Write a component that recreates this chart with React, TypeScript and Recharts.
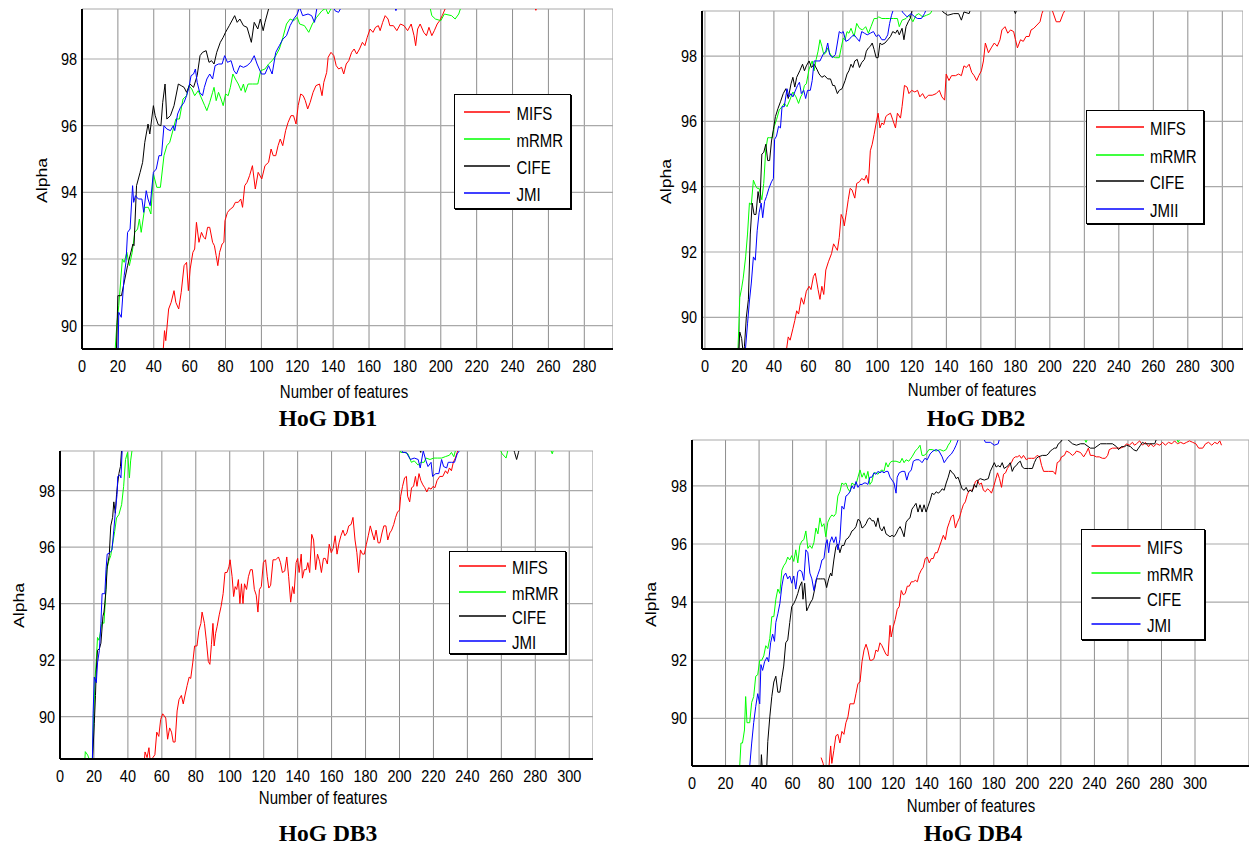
import React from 'react';
import { LineChart, Line, XAxis, YAxis, CartesianGrid } from 'recharts';

type Pair = number[];

const namesStd = ['MIFS', 'mRMR', 'CIFE', 'JMI'];
const namesDb2 = ['MIFS', 'mRMR', 'CIFE', 'JMII'];
const seriesColors = ['#ff0000', '#00ff00', '#000000', '#0000ff'];
const xTicks280 = [0, 20, 40, 60, 80, 100, 120, 140, 160, 180, 200, 220, 240, 260, 280];
const xTicks300 = [0, 20, 40, 60, 80, 100, 120, 140, 160, 180, 200, 220, 240, 260, 280, 300];
const yTicks = [90, 92, 94, 96, 98];

// ---------------- HoG DB1 ----------------
const db1Mifs: Pair[] = [[44.8,88.9],[46,89.85],[46.7,89.55],[48.3,90.5],[49.7,90.7],[51.3,91.05],[52.3,90.7],[53.9,90.5],[55.3,91.0],[56.9,91.8],[58.3,91.9],[59.3,91.05],[60.3,91.7],[61.8,92.2],[62.8,92.3],[63.8,93.1],[65.2,92.5],[66.6,92.8],[67.8,92.65],[68.8,92.6],[70,92.95],[71.2,92.95],[72.8,92.5],[73.8,92.4],[74.8,92.1],[75.7,91.8],[76.7,92.2],[78.1,92.45],[79.1,92.5],[79.7,93.15],[81.1,93.4],[82.7,93.5],[84.1,93.55],[85.5,93.7],[87.1,93.7],[88.5,93.8],[89.5,93.55],[90.7,94.2],[92,94.3],[93.4,94.5],[95,94.8],[96.6,94.1],[98.2,94.6],[100.2,94.4],[102,94.8],[104,94.9],[105.4,95.3],[106.6,95.1],[108,95.1],[109.3,95.4],[110.5,95.6],[111.9,95.4],[113.5,95.85],[114.9,96.1],[116.5,96.3],[117.9,96.3],[119.3,96.05],[120.5,96.6],[121.9,96.95],[123.3,96.9],[124.5,96.75],[125.8,96.5],[127.2,96.7],[128.8,97.0],[130.4,97.2],[132.4,97.25],[133.8,96.9],[134.8,97.3],[136.4,97.6],[137.2,98.05],[138.8,98.2],[140.4,98.1],[141.7,97.8],[143.1,97.7],[144.7,97.75],[145.9,97.55],[147.3,97.85],[148.7,97.95],[150.3,98.2],[151.7,98.3],[153.1,98.15],[154.7,98.3],[156.3,98.5],[157.7,98.4],[159,98.65],[160.6,98.9],[162.2,98.8],[163.6,98.95],[165.2,99.0],[166.2,98.85],[167.6,99.1],[169,99.3],[170.6,99.2],[171.6,99.0],[173.6,99.0],[175.5,98.85],[177.5,99.05],[179.5,99.0],[181.5,98.85],[183.5,99.05],[185.1,98.7],[186,98.4],[187.1,98.9],[188.5,99.05],[190.5,98.8],[192,98.7],[193.4,98.95],[195,98.7],[196.4,98.85],[198,99.05],[199.4,99.15],[200.8,99.3],[202.4,99.5],[204,99.8],[251,99.8],[253,99.46],[255,99.8],[296,99.8]];
const db1Mrmr: Pair[] = [[18,88.9],[19.5,90.1],[20.5,90.6],[22.5,92.0],[23.5,91.9],[25,92.2],[26.4,91.8],[28,92.2],[29.4,92.8],[31,92.9],[32,93.2],[33,92.8],[35,93.55],[37,93.55],[38.4,93.35],[39.8,94.55],[41.7,94.15],[43.7,94.15],[45.7,95.1],[47.3,95.4],[48.9,95.5],[50.9,95.9],[52.3,96.2],[54.3,96.2],[56.3,96.8],[58.3,96.9],[59.6,97.2],[61.2,97.1],[62.8,96.9],[64.8,97.05],[66.8,96.8],[68.4,96.6],[69.6,96.45],[71.2,96.7],[72.8,97.0],[73.6,97.15],[74.8,96.75],[76.1,97.0],[77.5,96.8],[78.7,96.6],[80,96.95],[81.5,96.9],[82.7,97.15],[84.1,97.55],[85.5,97.4],[87.1,97.25],[88.7,97.05],[90,97.25],[91,97.0],[92.6,97.25],[95,97.25],[98,97.25],[99.6,97.65],[102,97.7],[104,97.85],[106,97.95],[108,98.1],[110,98.3],[112,98.65],[114,99.05],[116,99.2],[118,99.15],[120,99.25],[121.3,99.05],[124,99.0],[126.4,98.8],[128.4,99.05],[130.8,99.25],[133.8,99.45],[135.8,99.52],[137.2,99.35],[139.8,99.6],[150,99.8],[193,99.8],[195,99.3],[197,99.2],[200,99.15],[202,99.35],[206,99.3],[208,99.2],[210,99.35],[211.5,99.6],[215,99.8],[296,99.8]];
const db1Cife: Pair[] = [[19,88.9],[20,90.9],[22,90.9],[25.4,91.8],[28.4,92.45],[29,92.4],[30.4,94.2],[32.4,94.6],[33.8,94.9],[35,95.5],[36.8,96.05],[37.8,95.75],[39.8,96.6],[40.8,96.3],[42.5,96.03],[44,96.0],[45,96.7],[46.3,97.25],[47.3,96.2],[49.3,96.3],[51.3,96.6],[53.7,97.25],[55.3,97.2],[56.9,97.15],[58.3,97.0],[60.2,97.25],[62.2,97.15],[64.2,97.5],[65.8,98.1],[67.2,98.2],[69.2,98.25],[70.8,97.9],[72.2,97.95],[73.6,97.85],[75.1,98.2],[77.1,98.5],[78.7,98.65],[80,98.8],[82.1,99.0],[84.1,99.2],[85.1,99.3],[86.5,99.1],[88,99.2],[90,99.0],[92,98.95],[94.4,98.5],[96,99.1],[98,98.9],[99.4,99.2],[101,98.85],[102,99.1],[104,99.5],[106,99.8],[296,99.8]];
const db1Jmi: Pair[] = [[20,88.9],[20.5,90.4],[21.9,90.25],[23.5,91.5],[24.5,91.9],[25.4,92.8],[26.8,92.9],[28.2,94.2],[28.8,93.7],[29.8,93.9],[31.4,93.8],[33.4,93.8],[34.4,93.4],[35.8,94.05],[36.8,93.8],[38,93.6],[39.8,94.6],[41.4,94.7],[42.9,95.1],[44.3,95.1],[45.7,96.0],[47.3,95.9],[49.3,95.85],[50.9,96.0],[51.7,95.85],[53.3,96.35],[54.9,96.55],[56.9,96.7],[58.3,96.9],[59.6,97.15],[60.8,97.5],[62.2,97.55],[63.2,97.7],[64.2,97.3],[65.6,97.0],[67.2,96.9],[68.2,97.15],[69.6,97.4],[71.2,97.55],[72.8,97.4],[74.2,97.8],[76.1,97.85],[78.1,97.85],[79.5,98.1],[81.1,97.9],[83.1,97.95],[84.7,97.65],[86.1,97.55],[88,97.8],[90,97.75],[92,97.8],[94,97.9],[96,98.1],[97.6,97.85],[100,97.55],[102,97.55],[104,97.8],[106,97.55],[108,98.2],[110,98.4],[112,98.6],[114,98.7],[116,99.0],[118,99.2],[120,99.35],[121.3,99.55],[123,99.3],[126,99.35],[128,99.3],[129.6,99.1],[131,99.55],[133,99.8],[139,99.8],[141,99.45],[143,99.4],[145,99.6],[147,99.8],[173,99.8],[175,99.45],[177,99.8],[296,99.8]];

// ---------------- HoG DB2 ----------------
const db2Mifs: Pair[] = [[46.5,88.7],[48.3,89.4],[49.4,89.3],[51,89.65],[52.1,89.9],[53.2,90.2],[54.3,90.1],[55.9,90.6],[57.3,90.4],[58.8,90.8],[60.4,90.95],[61.5,90.85],[62.9,91.25],[64,91.35],[65.6,90.85],[66.7,90.55],[67.8,90.95],[68.9,90.7],[70.1,91.45],[71.6,91.7],[73.4,91.95],[74.6,92.25],[75.7,92.15],[76.8,92.05],[77.9,92.45],[79,93.15],[80.2,93.0],[80.8,92.8],[82,93.2],[83.1,93.6],[84.2,93.95],[85.3,93.9],[86.9,93.65],[88,94.1],[89.6,94.15],[90.9,94.25],[92.5,94.2],[93.6,94.35],[94.8,94.1],[95.9,95.1],[97,95.3],[98.1,95.6],[99.3,95.95],[100.4,96.25],[101.5,95.8],[102.6,95.95],[103.7,95.9],[104.9,96.15],[106,96.2],[107.6,96.25],[108.9,96.05],[110.5,95.8],[111.6,96.25],[113.4,96.1],[114.3,96.45],[115.7,97.1],[117.2,97.05],[118.3,96.85],[119.9,96.95],[121.7,96.9],[123.3,96.95],[124.6,96.75],[126.2,96.85],[127.8,96.7],[129.6,96.8],[131.8,96.8],[134.1,96.85],[135.9,96.95],[137.4,96.75],[139,96.65],[139.9,97.45],[141.5,97.25],[143,97.4],[145.3,97.4],[147.1,97.45],[148.7,97.4],[150.2,97.7],[151.6,97.65],[153.2,97.75],[154.7,97.5],[156.1,97.4],[157.6,97.25],[158.8,97.4],[160.3,97.55],[161.5,97.85],[162.6,98.4],[164.4,98.1],[166,98.25],[167.8,98.4],[169.5,98.3],[171.1,98.5],[172.2,98.8],[174,98.9],[175.6,98.7],[177.2,98.8],[179,98.75],[180.1,98.5],[181.2,98.25],[183,98.5],[184.6,98.45],[186.2,98.6],[188,98.6],[189.1,98.8],[190.7,98.85],[192.5,98.95],[194.3,99.05],[195.4,99.3],[196.5,99.45],[198,99.6],[200,99.5],[201.4,99.4],[203.7,99.05],[205.9,99.05],[207.7,99.3],[209.3,99.45],[211,99.7],[312,99.7]];
const db2Mrmr: Pair[] = [[19.1,88.9],[20.2,90.6],[21.3,90.9],[22.2,91.2],[23.6,91.85],[24.7,92.55],[25.8,93.5],[26.9,93.45],[28.1,94.2],[29.2,94.05],[30.3,93.95],[31.4,93.95],[33,93.6],[34.1,94.1],[35.3,95.15],[36.4,95.5],[37.5,95.5],[39.1,95.5],[40.2,95.85],[41.5,96.05],[43.1,96.35],[44.7,96.45],[46,96.55],[47.6,96.45],[49.2,96.65],[51,96.9],[52.8,96.75],[54.3,96.55],[55.5,96.75],[56.6,96.85],[57.7,97.1],[58.8,97.15],[60.4,97.6],[62.2,97.85],[63.3,97.55],[64.5,97.9],[65.6,98.15],[66.7,98.5],[67.8,98.3],[68.9,98.05],[70.1,98.1],[71.2,98.25],[72.3,98.1],[73.4,98.0],[75.7,97.95],[77.9,97.95],[79,98.25],[80.2,98.55],[81.3,98.5],[82.4,98.75],[83.5,98.7],[84.7,98.85],[86.5,98.6],[88,99.0],[89.6,98.85],[91.4,98.8],[93.2,98.9],[94.8,98.7],[96.3,98.9],[98.1,99.15],[99.7,99.15],[100.8,99.2],[102.6,99.15],[104.9,99.15],[107.1,99.15],[109.4,99.15],[111.6,99.15],[112.7,98.9],[114.3,99.1],[116.6,99.15],[118.3,99.25],[120.6,99.05],[122.4,99.25],[124,99.3],[126.2,99.2],[128.5,99.25],[130.7,99.3],[132.3,99.45],[134,99.7],[312,99.7]];
const db2Cife: Pair[] = [[19.5,88.9],[20.2,89.55],[21.3,89.35],[22.2,88.9],[22.9,89.1],[24,90.0],[25.2,90.55],[26.3,92.55],[27.4,93.5],[28.5,93.15],[29.6,93.15],[30.8,93.85],[31.9,93.5],[33,95.0],[34.1,95.05],[35.3,95.3],[36.4,94.8],[37.5,94.8],[38.6,95.4],[39.7,95.75],[40.9,96.15],[42.4,96.4],[43.8,96.6],[45.4,96.85],[46.9,97.0],[48.3,96.7],[49.9,97.15],[51,97.35],[52.1,97.05],[53.2,97.35],[55,97.55],[56.6,97.75],[57.7,97.55],[58.8,97.7],[60.4,97.85],[61.8,97.65],[63.3,97.75],[64.9,97.6],[66.2,97.45],[67.8,97.35],[69.4,97.4],[71.2,97.3],[72.8,97.3],[74.1,97.1],[75.2,97.1],[76.8,96.85],[77.9,96.95],[79.5,97.0],[81.3,97.25],[82.4,97.45],[83.5,97.55],[84.7,97.75],[85.8,97.65],[86.9,97.85],[88.3,97.9],[89.6,97.65],[90.9,97.8],[92.5,97.9],[93.6,98.15],[94.8,98.25],[95.9,98.3],[97,98.4],[98.1,98.2],[99.3,97.95],[100.4,97.95],[101.5,98.4],[102.6,98.35],[104.4,98.4],[106,98.5],[107.6,98.6],[108.9,98.75],[110.5,98.7],[111.6,98.8],[112.7,98.65],[114.3,98.85],[115.4,98.5],[116.6,98.9],[117.9,99.05],[119,99.15],[119.9,99.35],[121,99.6],[136,99.6],[138,99.35],[140.8,99.25],[144.2,99.3],[147.1,99.3],[148.7,99.1],[150.2,99.35],[153.2,99.3],[155,99.6],[178,99.6],[180,99.3],[182,99.6],[312,99.6]];
const db2Jmi: Pair[] = [[23.3,88.9],[24.7,89.8],[25.8,90.5],[26.9,91.05],[28.1,91.85],[29.2,91.75],[30.3,92.65],[31.4,93.2],[32.6,93.5],[33.5,93.05],[34.6,93.55],[35.7,93.7],[37.1,93.95],[38.6,94.15],[39.7,94.25],[40.4,95.45],[41.5,95.55],[42.7,95.85],[43.8,95.8],[44.7,96.45],[46,96.45],[47.6,97.0],[48.7,96.75],[49.9,96.85],[51,96.75],[52.1,96.9],[53.7,97.1],[54.8,97.2],[55.9,96.85],[57.3,96.95],[58.4,96.7],[59.5,96.95],[61.1,96.95],[62.2,97.25],[63.3,97.85],[64.9,97.85],[66.7,97.85],[68.5,98.05],[70.1,98.15],[71.2,98.4],[72.3,98.05],[73.9,97.95],[75.7,98.05],[76.8,98.4],[77.9,98.75],[79,98.7],[80.2,98.75],[81.7,98.45],[83.5,98.5],[85.1,98.6],[86.5,98.65],[88,98.55],[89.6,98.45],[90.9,98.75],[92.5,98.7],[94.1,98.65],[95.9,98.7],[97.7,98.75],[99.3,98.6],[100.8,98.65],[102.6,98.5],[104.4,98.5],[106,98.65],[107.1,99.0],[108.2,99.25],[109.4,99.45],[111,99.6],[113.5,99.6],[114.5,99.35],[117.2,99.2],[119.5,99.3],[121.7,99.2],[123.3,99.15],[125.5,99.15],[127.3,99.3],[128.5,99.45],[130,99.6],[312,99.6]];

// ---------------- HoG DB3 ----------------
const db3Mifs: Pair[] = [[49.5,88.3],[50.1,88.75],[51.3,88.55],[52.4,88.9],[53.1,88.45],[54.7,88.55],[55.9,88.65],[57,89.45],[58.2,89.3],[59.3,89.9],[60.5,90.1],[62.3,89.95],[63.4,89.2],[64.6,89.6],[65.7,89.45],[66.7,89.1],[67.8,89.1],[69,90.2],[70.1,90.6],[71.5,90.75],[72.6,90.45],[73.8,90.8],[74.9,91.1],[76.1,91.4],[77,91.35],[78.2,91.9],[79.3,92.5],[80.7,92.5],[81.8,93.05],[83,93.3],[83.7,93.7],[85.1,93.3],[86.2,92.7],[87.4,91.95],[88.3,91.85],[89.2,92.55],[90.1,93.3],[90.8,92.5],[91.7,92.95],[92.6,93.2],[93.8,93.6],[94.9,93.9],[96.1,94.35],[97.2,95.1],[98.4,95.1],[99.5,95.3],[100.2,95.55],[101.4,94.95],[102.3,94.25],[103.2,94.6],[104.1,94.5],[105.1,94.85],[106,94.0],[106.9,94.7],[107.8,94.0],[108.7,94.7],[109.9,94.5],[111,94.95],[112.2,95.2],[113.3,95.2],[114.5,94.5],[115.6,94.3],[116.6,93.7],[117.5,94.5],[118.6,94.6],[119.8,95.45],[121.1,95.55],[122.1,94.95],[123,94.55],[124.1,94.65],[125.5,95.55],[127.1,95.55],[128.7,95.65],[129.9,95.45],[131,95.1],[132.4,95.15],[133.6,95.65],[134.7,94.95],[135.9,94.05],[137,94.6],[137.9,94.35],[139.1,95.45],[140,95.6],[140.9,95.1],[142.1,95.75],[142.8,94.9],[143.9,95.2],[145.1,95.2],[146,95.45],[147.1,95.1],[148.3,96.45],[149.4,96.25],[150.6,95.2],[151.7,95.75],[152.9,95.5],[154,95.1],[155.2,95.6],[156.3,95.6],[157.5,95.4],[158.6,96.1],[159.8,95.8],[160.9,95.95],[162.1,96.4],[163.2,95.75],[164.4,96.15],[165.5,96.4],[166.7,96.6],[167.8,96.4],[169,96.5],[170.1,96.75],[171.5,96.8],[172.6,97.05],[173.8,96.25],[174.9,95.8],[175.9,95.1],[177,95.9],[178.2,95.75],[179.3,95.75],[180.5,96.1],[181.6,96.4],[182.8,96.75],[183.9,96.5],[185.1,96.25],[186.2,96.6],[187.4,96.15],[188.5,96.15],[189.7,96.5],[190.8,96.75],[192,96.75],[193.1,96.25],[194.3,96.5],[195.4,96.6],[196.6,96.8],[197.7,97.05],[198.9,97.25],[200,97.3],[200.7,97.8],[201.8,98.15],[203,98.45],[204.1,98.5],[204.8,97.8],[206,97.6],[207.1,98.1],[208.3,98.15],[209.4,98.5],[210.3,98.15],[211.5,98.6],[212.6,98.35],[213.8,98.2],[214.9,98.1],[216.1,97.95],[217.2,98.1],[218.6,98.05],[219.8,98.15],[220.9,98.1],[222.1,98.35],[223.7,98.5],[225.5,98.5],[227.1,98.7],[228.3,98.6],[229.4,98.8],[230.6,98.7],[231.7,99.0],[232.9,99.15],[234,99.35],[235.5,99.6],[313,99.6]];
const db3Mrmr: Pair[] = [[14.5,88.3],[14.9,88.76],[16.3,88.64],[17.2,88.5],[19,88.45],[19.8,89.9],[20.7,91.4],[21.4,92.0],[22.1,92.8],[23,92.7],[23.7,92.95],[24.8,93.35],[25.9,93.3],[26.7,94.1],[27.6,95.2],[28.7,95.5],[29.9,95.7],[31,96.1],[32.2,96.55],[33.3,97.03],[34.7,97.15],[36.3,97.5],[37.5,98.15],[38.6,99.1],[39.8,99.35],[40.9,98.45],[41.6,99.05],[42.5,99.45],[43.5,99.7],[199,99.7],[200.7,99.35],[203,99.35],[205,99.3],[207,99.0],[208.7,99.05],[211,98.9],[212.6,99.0],[214.5,99.0],[215.6,99.15],[218,99.1],[220.2,99.15],[222.5,99.15],[224.8,99.15],[227,99.2],[229.4,99.25],[230.6,99.35],[232,99.2],[232.9,99.4],[234.5,99.6],[258,99.6],[260.5,99.3],[262.8,99.15],[264.5,99.6],[288,99.6],[290,99.3],[291.5,99.6],[313,99.6]];
const db3Cife: Pair[] = [[19.1,88.4],[20.2,89.75],[20.9,90.75],[21.4,91.65],[22.1,92.35],[23.2,92.4],[24.1,92.6],[25.3,93.55],[25.9,93.7],[26.4,94.0],[27.1,94.5],[27.8,95.3],[29,95.7],[29.9,96.75],[31,97.05],[31.7,97.6],[32.6,97.2],[33.3,97.85],[34,98.25],[34.7,98.6],[35.6,98.85],[36.3,99.45],[37,99.7],[210,99.7],[212.5,99.35],[214,99.7],[266,99.7],[267.8,99.35],[269,99.1],[270.1,99.35],[271.5,99.7],[313,99.7]];
const db3Jmi: Pair[] = [[19.1,88.4],[19.5,90.1],[20.2,91.4],[21.4,91.2],[22.1,91.9],[23.2,92.35],[24.1,93.3],[24.8,94.35],[26.4,94.35],[27.1,95.2],[27.8,95.75],[29.4,95.8],[30.6,95.9],[31.7,96.6],[32.9,97.45],[33.6,97.85],[34,98.5],[35.2,98.55],[35.9,98.45],[36.6,99.4],[37.5,99.7],[200,99.7],[201.8,99.35],[204,99.35],[206.4,99.1],[208.7,99.15],[211,99.1],[212.2,98.8],[214,99.4],[215.6,99.05],[216.8,98.85],[218.6,99.0],[219.5,98.5],[221.4,98.6],[223.2,98.6],[224.8,99.1],[226,98.85],[227.8,98.8],[228.7,99.0],[230.6,99.0],[232.4,99.0],[234,99.3],[235.2,99.4],[236.5,99.7],[313,99.7]];

// ---------------- HoG DB4 ----------------
const db4Mifs: Pair[] = [[77,88.65],[78.2,88.45],[79,88.2],[81.5,88.2],[82.7,89.05],[83.4,88.45],[84.6,88.9],[85.8,89.4],[87,89.45],[88.2,89.15],[89.4,89.55],[90.6,89.45],[91.8,89.85],[93,90.05],[94.2,90.5],[95.4,90.5],[96.6,90.5],[97.8,90.85],[99,91.2],[100.2,91.25],[101.4,91.95],[102.6,92.35],[103.8,92.55],[104.9,92.35],[106.1,92.0],[107.3,92.0],[108.5,92.05],[109.7,92.35],[110.9,92.3],[112.1,92.6],[113.3,92.5],[114.5,92.35],[115.7,92.2],[116.9,92.15],[118.1,93.2],[118.8,92.8],[120,93.15],[121.2,93.4],[122.4,93.75],[123.6,93.85],[124.8,94.4],[126,94.25],[127.2,94.3],[128.4,94.55],[129.6,94.55],[130.8,94.7],[132,94.7],[133.2,94.75],[134.4,94.7],[135.5,94.95],[136.7,95.1],[137.9,95.2],[139.1,95.5],[140.3,95.55],[141.5,95.35],[142.7,95.5],[143.9,95.5],[145.1,95.7],[146.3,95.7],[147.5,95.9],[148.7,96.1],[149.9,96.3],[151.1,96.15],[152.3,96.55],[153.5,96.75],[154.7,96.95],[155.9,97.0],[157.1,96.55],[158.3,96.75],[159.5,96.9],[160.7,97.15],[161.8,97.35],[163,97.45],[164.2,97.7],[165.4,97.85],[166.6,97.85],[167.8,97.9],[169,98.15],[170.2,98.2],[171.4,98.05],[172.6,98.1],[173.8,97.85],[175,97.8],[176.2,97.9],[177.4,97.85],[178.6,97.75],[179.8,97.95],[181,98.2],[182.2,98.45],[183.4,98.25],[184.6,97.95],[185.8,98.4],[187,98.45],[188.1,98.6],[189.3,98.7],[190.5,98.8],[191.7,98.95],[192.9,99.0],[194.1,99.0],[195.3,99.05],[196.5,98.95],[197.7,99.05],[199.4,98.9],[200.6,98.95],[202.5,98.95],[204.2,98.95],[205.8,99.05],[207.3,99.0],[208.5,98.7],[209.7,98.5],[212.5,98.5],[215.4,98.5],[216.8,98.4],[217.8,98.8],[219.2,98.85],[220.4,99.0],[222.1,99.05],[223.3,99.2],[225,99.15],[226.9,99.05],[228.1,99.1],[229.3,99.2],[231.7,99.15],[233.6,99.0],[235.2,99.15],[236.4,99.3],[237.6,99.05],[239.3,99.05],[241.2,99.0],[242.9,99.0],[244.8,98.95],[246.5,98.95],[247.9,99.05],[248.9,99.25],[250.8,99.3],[253.2,99.3],[255.6,99.3],[257.5,99.35],[259.2,99.45],[260.8,99.4],[262.7,99.5],[263.9,99.4],[265.1,99.45],[267,99.55],[268.7,99.4],[270.4,99.5],[272.3,99.35],[273.5,99.45],[275.2,99.35],[277.1,99.45],[279,99.4],[280.7,99.5],[282.3,99.4],[284.2,99.5],[286.2,99.45],[287.8,99.55],[289.5,99.45],[291.4,99.5],[293.3,99.45],[295,99.5],[296.7,99.55],[298.6,99.5],[300.5,99.45],[302.2,99.3],[304.6,99.3],[306.3,99.45],[308.1,99.5],[310,99.4],[311.7,99.5],[313.4,99.45],[314.8,99.55],[315.8,99.4]];
const db4Mrmr: Pair[] = [[28.3,88.2],[29.2,89.15],[30.1,89.15],[31.3,89.6],[32,90.75],[32.8,89.85],[34.4,89.85],[35.6,90.55],[36.8,90.75],[38,91.45],[39.2,91.5],[40.4,92.0],[41.6,92.0],[42.8,92.15],[44,92.5],[45.2,92.4],[46.4,92.75],[47.6,93.5],[48.8,93.5],[50,94.1],[51.2,94.45],[52.4,94.3],[53.6,95.1],[54.7,95.25],[55.9,95.35],[57.1,95.55],[58.3,95.45],[59.5,95.6],[60.7,95.4],[61.9,95.8],[63.1,95.35],[64.3,95.95],[65.5,96.1],[66.7,96.15],[67.9,96.45],[69.1,95.85],[70.3,95.95],[71.5,95.85],[72.7,96.05],[73.9,96.55],[75.1,96.35],[76.3,96.9],[77.5,96.6],[78.7,96.7],[79.8,96.25],[81,96.75],[82.2,96.9],[83.4,97.0],[84.6,96.95],[85.8,97.05],[87,97.65],[88.2,97.8],[89.4,98.1],[90.6,98.05],[91.8,98.1],[93,97.9],[94.2,97.8],[95.4,98.1],[96.6,98.05],[97.8,98.05],[99,98.3],[100.2,98.55],[101.4,98.3],[102.6,98.45],[103.8,98.25],[104.9,98.5],[106.1,98.05],[107.3,98.15],[108.5,98.45],[109.7,98.45],[110.9,98.4],[112.1,98.5],[113.3,98.55],[114.5,98.5],[115.7,98.8],[116.9,98.65],[118.1,98.8],[119.3,98.85],[121.7,98.85],[124.1,98.8],[125.3,98.95],[126.5,98.8],[127.7,98.9],[129.3,98.85],[131.2,99.0],[133.2,99.2],[134.8,99.3],[136,99.4],[137.2,99.05],[138.4,99.05],[139.6,99.1],[141.3,99.25],[143.2,99.25],[145.6,99.2],[148,99.25],[149.9,99.2],[151.6,99.25],[152.8,99.4],[154,99.5],[155.5,99.75],[233,99.75],[235,99.5],[237,99.75],[288,99.75],[290,99.5],[292,99.75],[331,99.75]];
const db4Cife: Pair[] = [[41,88.2],[41.4,88.75],[42,88.2],[44.5,88.2],[45.2,89.2],[46.4,90.05],[47.6,90.75],[48.8,91.25],[50,91.45],[51.2,90.9],[52.4,90.9],[53.6,91.4],[54.7,91.8],[55.9,92.6],[57.1,92.7],[58.3,93.3],[59.5,93.85],[60.7,93.95],[61.9,94.1],[63.1,94.3],[64.3,94.55],[65.5,94.7],[66.2,94.1],[67.2,94.65],[68.4,93.7],[69.6,93.85],[70.8,94.0],[71.9,94.1],[73.2,94.45],[74.3,94.8],[75.5,94.8],[76.7,94.8],[77.9,94.8],[79.1,94.8],[80.3,94.5],[81.5,94.8],[82.7,95.0],[83.4,94.9],[84.6,95.45],[85.8,95.9],[87,96.0],[88.2,95.7],[89.4,95.95],[90.6,95.95],[91.8,96.15],[93,96.2],[94.2,96.3],[95.4,96.45],[96.6,96.5],[97.8,96.6],[99,96.85],[100.2,96.8],[101.4,96.55],[102.6,96.6],[103.8,96.7],[104.9,96.85],[106.1,96.9],[107.3,96.8],[108.5,96.8],[109.7,96.6],[110.9,96.9],[112.1,96.55],[113.3,96.45],[114.5,96.6],[115.7,96.35],[116.9,96.3],[118.1,96.25],[119.3,96.3],[120.5,96.25],[121.7,96.35],[122.9,96.5],[124.1,96.6],[125.3,96.45],[126.5,96.25],[127.7,96.75],[128.9,96.85],[130,96.9],[131.2,97.2],[132.4,97.3],[133.6,97.4],[134.8,97.1],[136,97.35],[137.2,97.1],[138.4,97.35],[139.6,97.1],[140.8,97.3],[142,97.5],[143.2,97.75],[144.4,97.7],[145.6,97.8],[146.8,97.75],[148,97.8],[149.2,97.9],[150.4,97.85],[151.6,98.1],[152.8,98.3],[154,98.55],[155.2,98.45],[156.3,98.4],[157.5,98.25],[158.7,98.3],[159.9,98.1],[161.1,97.9],[162.3,97.85],[163.5,97.95],[164.7,97.8],[165.9,97.85],[167.1,97.8],[168.3,98.05],[169.5,97.95],[170.7,98.2],[171.9,98.25],[174.3,98.2],[176.7,98.25],[177.9,98.5],[179.1,98.65],[180.3,98.8],[181.4,98.65],[182.6,98.7],[183.8,98.65],[185,98.8],[186.2,98.6],[187.4,98.65],[188.6,98.7],[189.8,98.8],[191,98.5],[192.2,98.65],[193.4,98.7],[194.6,98.8],[195.8,98.85],[197,98.65],[198.2,98.6],[200.6,98.6],[203,98.6],[204.2,98.8],[205.4,98.95],[206.6,99.0],[209,99.05],[211.3,99.05],[212.5,99.1],[213.7,99.2],[214.9,99.25],[216.1,99.3],[217.3,99.3],[218.5,99.45],[219.7,99.5],[221,99.6],[224,99.6],[226.9,99.45],[229.3,99.4],[231.7,99.45],[234,99.45],[237.6,99.3],[240,99.3],[243.6,99.45],[247.2,99.45],[250.8,99.45],[253.2,99.35],[254.4,99.25],[256,99.35],[258,99.35],[259.2,99.4],[261.6,99.35],[263.2,99.25],[265.1,99.2],[266.3,99.3],[267.5,99.4],[268.7,99.5],[270,99.45],[273,99.45],[276,99.45],[277.5,99.7],[331,99.7]];
const db4Jmi: Pair[] = [[34.2,88.2],[35.6,89.15],[36.8,89.85],[38,90.4],[39.2,90.85],[40.4,90.5],[41.1,91.85],[42.1,91.65],[43.3,91.95],[44.7,92.1],[45.7,91.95],[46.9,92.6],[48.1,92.9],[49.2,92.65],[50,93.3],[51.2,93.6],[52.4,93.95],[53.6,94.55],[54.7,94.9],[55.9,95.0],[57.1,94.8],[58.3,94.9],[59.5,94.65],[60.7,94.9],[61.9,94.45],[63.1,95.05],[64.3,95.1],[65.5,95.05],[66.7,94.75],[67.9,95.8],[69.1,95.7],[70.3,95.0],[71.5,94.8],[72.7,94.4],[73.9,94.75],[75.1,94.95],[76.3,95.15],[77.5,95.45],[78.7,95.5],[79.8,96.0],[80.6,96.15],[81.5,95.7],[82.2,96.05],[83.4,96.25],[84.6,96.05],[85.8,96.25],[87,95.8],[88.2,96.15],[89.4,97.3],[90.6,97.2],[91.8,97.65],[93,97.7],[94.2,97.8],[95.4,98.0],[96.6,97.9],[97.8,98.15],[99,97.95],[100.2,98.05],[101.4,98.05],[102.6,98.1],[103.8,98.1],[104.9,98.05],[106.1,98.3],[107.3,98.3],[108.5,98.45],[109.7,98.4],[110.9,98.5],[112.1,98.45],[113.3,98.5],[114.5,98.45],[115.7,98.5],[116.9,98.5],[118.1,98.3],[119.3,98.2],[120.5,98.1],[121.7,97.75],[122.4,98.3],[123.6,98.45],[125.3,98.5],[126.9,98.5],[128.1,98.2],[129.3,98.45],[130.8,98.55],[132,98.85],[133.6,98.9],[135.5,98.9],[137.2,98.8],[138.9,98.95],[140.3,98.9],[142,99.1],[143.7,99.2],[145.6,99.25],[147.3,99.2],[149.2,99.0],[150.4,98.8],[151.6,98.9],[152.8,99.0],[154.7,99.1],[156.3,99.25],[157.5,99.4],[158.7,99.58],[160,99.75],[173,99.75],[175,99.5],[178,99.5],[180.3,99.4],[182.6,99.45],[184,99.75],[331,99.75]];

// ---------------- layout ----------------
const FONT = "Arial, 'Liberation Sans', Helvetica, sans-serif";
const SERIF = "'Liberation Serif', 'Times New Roman', Times, serif";
const STRETCH = 1.17;

interface LegendCfg { left: number; top: number; width: number; height: number; rows: number[]; lineX: number; lineW: number; textX: number; }
interface PanelCfg {
  key: string;
  title: string;
  names: string[];
  series: Pair[][];
  xTicks: number[];
  xDomain: [number, number];
  yDomain: [number, number];
  chart: { left: number; top: number; width: number; height: number; mt: number };
  rightLine: boolean;
  titlePos: [number, number];
  xLabelPos: [number, number];
  yLabelPos: [number, number];
  legend: LegendCfg;
}

const panels: PanelCfg[] = [
  {
    key: 'db1', title: 'HoG DB1', names: namesStd, series: [db1Mifs, db1Mrmr, db1Cife, db1Jmi],
    xTicks: xTicks280, xDomain: [0, 296], yDomain: [89.3, 99.5],
    chart: { left: 30, top: 0, width: 583, height: 389, mt: 9 }, rightLine: true,
    titlePos: [328, 418], xLabelPos: [344, 391], yLabelPos: [41, 180],
    legend: { left: 454, top: 94, width: 117, height: 115, rows: [18, 45, 72, 99], lineX: 10, lineW: 46, textX: 62.5 },
  },
  {
    key: 'db2', title: 'HoG DB2', names: namesDb2, series: [db2Mifs, db2Mrmr, db2Cife, db2Jmi],
    xTicks: xTicks300, xDomain: [-1.7, 312], yDomain: [89.03, 99.38],
    chart: { left: 650, top: 0, width: 593, height: 389, mt: 11 }, rightLine: true,
    titlePos: [976, 418], xLabelPos: [972, 389], yLabelPos: [665, 181],
    legend: { left: 1086, top: 110, width: 118, height: 114, rows: [17, 45, 71, 99], lineX: 10, lineW: 48, textX: 64 },
  },
  {
    key: 'db3', title: 'HoG DB3', names: namesStd, series: [db3Mifs, db3Mrmr, db3Cife, db3Jmi],
    xTicks: xTicks300, xDomain: [0, 314], yDomain: [88.5, 99.4],
    chart: { left: 8, top: 430, width: 585, height: 369, mt: 21 }, rightLine: true,
    titlePos: [328, 833], xLabelPos: [323, 797], yLabelPos: [18, 605],
    legend: { left: 449, top: 551, width: 117, height: 103, rows: [15, 41, 65, 90], lineX: 10, lineW: 47, textX: 63 },
  },
  {
    key: 'db4', title: 'HoG DB4', names: namesStd, series: [db4Mifs, db4Mrmr, db4Cife, db4Jmi],
    xTicks: xTicks300, xDomain: [0, 332.2], yDomain: [88.36, 99.58],
    chart: { left: 640, top: 430, width: 609, height: 376, mt: 10 }, rightLine: false,
    titlePos: [973, 833], xLabelPos: [971, 805], yLabelPos: [650, 604],
    legend: { left: 1081, top: 529, width: 124, height: 111, rows: [17, 44, 69, 95], lineX: 10.5, lineW: 49, textX: 66 },
  },
];

const toData = (pairs: Pair[]) => pairs.map((p) => ({ x: p[0], y: p[1] }));

const XTick = (props: any) => {
  const { x, y, payload } = props;
  return (
    <g transform={`translate(${x},${y}) scale(1,${STRETCH})`}>
      <text x={0} y={19.7} textAnchor="middle" fontSize={14.5} fontFamily={FONT} fill="#000">{payload.value}</text>
    </g>
  );
};
const YTick = (props: any) => {
  const { x, y, payload } = props;
  return (
    <g transform={`translate(${x},${y}) scale(1,${STRETCH})`}>
      <text x={-5} y={5.1} textAnchor="end" fontSize={14.5} fontFamily={FONT} fill="#000">{payload.value}</text>
    </g>
  );
};
const EmptyTick = () => <g />;

function Panel({ p }: { p: PanelCfg }) {
  const c = p.chart;
  const lg = p.legend;
  return (
    <>
      <div style={{ position: 'absolute', left: c.left, top: c.top }}>
        <LineChart width={c.width} height={c.height} margin={{ top: c.mt, right: 0, bottom: 0, left: 0 }}>
          <CartesianGrid xAxisId="b" yAxisId="l" horizontal={false} stroke="#8e8e8e" strokeWidth={1} />
          <CartesianGrid xAxisId="b" yAxisId="l" vertical={false} stroke="#a9a9a9" strokeWidth={1.2} />
          <XAxis xAxisId="b" type="number" dataKey="x" domain={p.xDomain} allowDataOverflow ticks={p.xTicks} interval={0}
            height={40} tickSize={0} tickMargin={0} tickLine={false} tick={XTick} axisLine={{ stroke: '#000', strokeWidth: 2 }} />
          <XAxis xAxisId="bi" orientation="bottom" mirror type="number" dataKey="x" domain={p.xDomain} allowDataOverflow ticks={p.xTicks} interval={0}
            height={0} tickSize={4} tick={EmptyTick} tickLine={{ stroke: '#000' }} axisLine={false} />
          <XAxis xAxisId="t" orientation="top" mirror type="number" dataKey="x" domain={p.xDomain} allowDataOverflow ticks={p.xTicks} interval={0}
            height={0} tickSize={4} tick={EmptyTick} tickLine={{ stroke: '#000' }} axisLine={{ stroke: '#000', strokeWidth: 1.5 }} />
          <YAxis yAxisId="l" type="number" domain={p.yDomain} allowDataOverflow ticks={yTicks} interval={0}
            width={52} tickSize={0} tickMargin={0} tickLine={false} tick={YTick} axisLine={{ stroke: '#000', strokeWidth: 2 }} />
          <YAxis yAxisId="li" mirror type="number" domain={p.yDomain} allowDataOverflow ticks={yTicks} interval={0}
            width={0} tickSize={4} tick={EmptyTick} tickLine={{ stroke: '#000' }} axisLine={false} />
          <YAxis yAxisId="r" orientation="right" mirror type="number" domain={p.yDomain} allowDataOverflow ticks={yTicks} interval={0}
            width={0} tickSize={4} tick={EmptyTick} tickLine={{ stroke: '#000' }}
            axisLine={p.rightLine ? { stroke: '#000', strokeWidth: 1.5 } : false} />
          {p.series.map((s, i) => (
            <Line key={p.names[i]} xAxisId="b" yAxisId="l" data={toData(s)} dataKey="y" type="linear"
              stroke={seriesColors[i]} strokeWidth={1} dot={false} activeDot={false} isAnimationActive={false} />
          ))}
        </LineChart>
      </div>
      <div style={{ position: 'absolute', left: p.xLabelPos[0] - 120, top: p.xLabelPos[1] - 7.5, width: 240, textAlign: 'center',
        fontFamily: FONT, fontSize: 15, lineHeight: '15px', color: '#000', transform: `scaleY(${STRETCH})`, whiteSpace: 'nowrap' }}>
        Number of features
      </div>
      <div style={{ position: 'absolute', left: p.yLabelPos[0] - 40, top: p.yLabelPos[1] - 7.5, width: 80, textAlign: 'center',
        fontFamily: FONT, fontSize: 15, lineHeight: '15px', color: '#000', transform: `scale(1,${STRETCH}) rotate(-90deg)`, whiteSpace: 'nowrap' }}>
        Alpha
      </div>
      <div style={{ position: 'absolute', left: p.titlePos[0] - 100, top: p.titlePos[1] - 10, width: 200, height: 20, textAlign: 'center',
        fontFamily: SERIF, fontWeight: 'bold', fontSize: 23.5, lineHeight: '20px', color: '#000', whiteSpace: 'nowrap' }}>
        {p.title}
      </div>
      <div style={{ position: 'absolute', left: lg.left, top: lg.top, width: lg.width, height: lg.height, boxSizing: 'border-box',
        border: '1px solid #000', boxShadow: '1px 1px 0 #000', background: '#fff' }}>
        <svg width={lg.width - 2} height={lg.height - 2} style={{ position: 'absolute', left: 0, top: 0 }}>
          {p.names.map((n, i) => (
            <line key={n} x1={lg.lineX - 1} x2={lg.lineX - 1 + lg.lineW} y1={lg.rows[i] - 1} y2={lg.rows[i] - 1}
              stroke={seriesColors[i]} strokeWidth={1.4} />
          ))}
        </svg>
        {p.names.map((n, i) => (
          <div key={n} style={{ position: 'absolute', left: lg.textX - 1, top: lg.rows[i] - 1 - 7.5, fontFamily: FONT, fontSize: 15, lineHeight: '15px',
            color: '#000', whiteSpace: 'nowrap', transform: 'scaleY(1.28)', transformOrigin: 'left center' }}>{n}</div>
        ))}
      </div>
    </>
  );
}

export default function App() {
  return (
    <div style={{ position: 'absolute', left: 0, top: 0, width: 1249, height: 845, background: '#fff', overflow: 'hidden' }}>
      {panels.map((p) => (
        <Panel key={p.key} p={p} />
      ))}
    </div>
  );
}
